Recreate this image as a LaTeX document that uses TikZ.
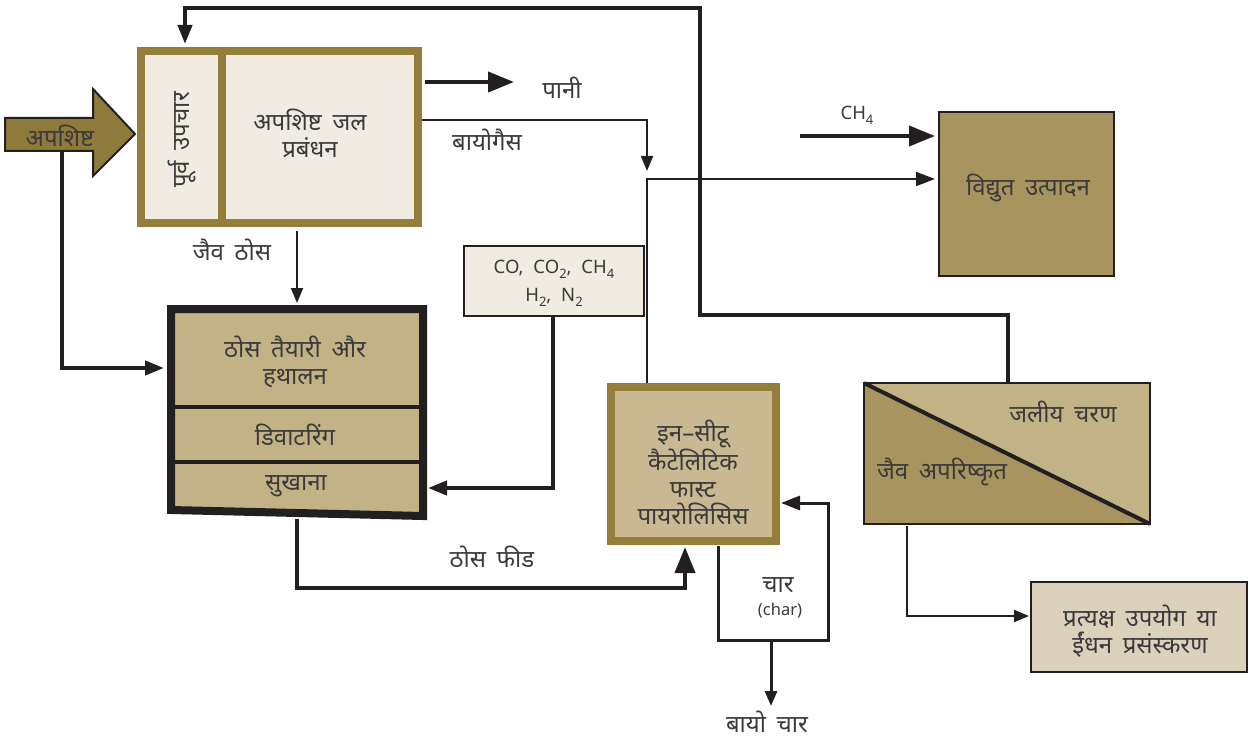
\documentclass[tikz,border=0pt]{standalone}
\usepackage{fontspec}
\setmainfont{Noto Sans}[Script=Devanagari, WordSpace=1.7]
\newfontfamily\latf{Noto Sans}[WordSpace=1.4]
\usetikzlibrary{arrows.meta}
\definecolor{olv}{HTML}{957E3A}
\definecolor{olvfill}{HTML}{8E7A3A}
\definecolor{lightf}{HTML}{F0ECE2}
\definecolor{tanf}{HTML}{C2B286}
\definecolor{darktan}{HTML}{A8945F}
\definecolor{pyrof}{HTML}{C9B891}
\definecolor{prodf}{HTML}{DCD2BC}
\definecolor{dk}{HTML}{231F20}
\definecolor{txt}{HTML}{3A3A3A}
\newcommand{\sbs}[1]{\raisebox{-0.5ex}{\fontsize{13}{13}\selectfont #1}}
\begin{document}
\begin{tikzpicture}[x=1pt,y=-1pt,
  lbl/.style={text=txt, font=\fontsize{24}{27}\selectfont, align=center, inner sep=0pt},
  small/.style={text=txt, font=\latf\fontsize{18.5}{28}\selectfont, align=center, inner sep=0pt},
  bx/.style={draw=dk, line width=2pt, inner sep=0pt},
  olvbox/.style={draw=olv, line width=8pt, inner sep=0pt},
  thinln/.style={draw=dk, line width=2pt},
  midln/.style={draw=dk, line width=3pt},
  thickln/.style={draw=dk, line width=4pt},
  sarr/.style={-{Triangle[length=15pt,width=12pt]}},
  marr/.style={-{Triangle[length=19pt,width=14pt]}},
  barr/.style={-{Triangle[length=26pt,width=20pt]}}
]
\useasboundingbox (0,0) rectangle (1253,741);

% ---------- input arrow ----------
\draw[fill=olvfill, draw=dk, line width=2pt]
  (5,118) -- (93,118) -- (93,89) -- (135,134) -- (93,176) -- (93,151) -- (5,151) -- cycle;
\node[lbl] (waste) at (60,136) {अपशिष्ट};

% ---------- pre-treatment / waste-water box ----------
\node[olvbox, fill=lightf, minimum width=277pt, minimum height=172pt] (pre) at (279.5,137) {};
\draw[olv, line width=8pt] (222,51) -- (222,223);
\node[lbl, rotate=90] (pretxt) at (182,140) {पूर्व उपचार};
\node[lbl] (wwtxt) at (310,133) {अपशिष्ट जल\\प्रबंधन};

% ---------- solids box (slightly trapezoidal) ----------
\draw[dk, line width=8pt, fill=tanf, line join=miter]
  (171,309) -- (423,309) -- (423,516) -- (171,510) -- cycle;
\draw[dk, line width=4pt] (171,407) -- (423,407);
\draw[dk, line width=4pt] (171,462) -- (423,462);
\node[lbl] (prep) at (295,362) {ठोस तैयारी और\\हथालन};
\node[lbl] (dewat) at (295,435) {डिवाटरिंग};
\node[lbl] (dry) at (296,486) {सुखाना};

% ---------- gas box ----------
\node[bx, fill=lightf, minimum width=180pt, minimum height=70pt] (gas) at (554,281) {};
\node[small] (gastxt) at (554,283) {CO,\, CO\sbs{2},\, CH\sbs{4}\\H\sbs{2},\, N\sbs{2}};

% ---------- electricity box ----------
\node[bx, fill=darktan, minimum width=175pt, minimum height=164pt] (elec) at (1026.5,194) {};
\node[lbl] (electxt) at (1028,188) {विद्युत उत्पादन};

% ---------- pyrolysis box ----------
\node[olvbox, fill=pyrof, minimum width=165pt, minimum height=154pt] (pyro) at (693.5,464) {};
\node[lbl] (pyrotxt) at (693,472) {इन–सीटू\\कैटेलिटिक\\फास्ट\\पायरोलिसिस};

% ---------- phase box ----------
\node[bx, minimum width=284pt, minimum height=139pt] (phase) at (1007,453.5) {};
\fill[tanf] (phase.north west) -- (phase.north east) -- (phase.south east) -- cycle;
\fill[darktan] (phase.north west) -- (phase.south west) -- (phase.south east) -- cycle;
\draw[dk, line width=2pt] (phase.north west) rectangle (phase.south east);
\draw[dk, line width=4pt] (phase.north west) -- (phase.south east);
\node[lbl] (aq) at (1063,412) {जलीय चरण};
\node[lbl] (bio) at (942,472) {जैव अपरिष्कृत};

% ---------- product box ----------
\node[bx, fill=prodf, minimum width=216pt, minimum height=90pt] (prod) at (1139,627) {};
\node[lbl] (prodtxt) at (1140,631) {प्रत्यक्ष उपयोग या\\ईंधन प्रसंस्करण};

% ---------- labels ----------
\node[lbl] (pani) at (562,88) {पानी};
\node[lbl] (biogas) at (487,140) {बायोगैस};
\node[lbl] (jaiv) at (232,250) {जैव ठोस};
\node[small] (ch4) at (857,115) {CH\sbs{4}};
\node[lbl] (feed) at (492,557) {ठोस फीड};
\node[lbl] (char) at (778,585) {चार};
\node[text=txt, font=\latf\fontsize{16.5}{18}\selectfont, inner sep=0pt] (charen) at (780,611) {(char)};
\node[lbl] (biochar) at (767,722) {बायो चार};

% ---------- coordinates ----------
\coordinate (inB) at (62,151);
\coordinate (prepIn) at (164,368);
\coordinate (topFB) at (1008,383);
\coordinate (preTop) at (185,44);
\coordinate (paniS) at (425,82);
\coordinate (paniE) at (514,82);
\coordinate (bgS) at (422,120);
\coordinate (bgE) at (647,171);
\coordinate (pyT) at (647,383);
\coordinate (elIn) at (935,179);
\coordinate (ch4S) at (800,136);
\coordinate (ch4E) at (935,136);
\coordinate (gasB) at (553,317);
\coordinate (dryIn) at (428,488);
\coordinate (jtS) at (297,231);
\coordinate (jtE) at (297,303);
\coordinate (feedS) at (297,519);
\coordinate (feedE) at (685,547);
\coordinate (chS) at (718,546);
\coordinate (chC) at (828,640);
\coordinate (chE) at (781,503);
\coordinate (bcS) at (771,640);
\coordinate (bcE) at (771,706);
\coordinate (phB) at (907,526);
\coordinate (prodIn) at (1029,616);

% ---------- connectors ----------
\draw[thickln, marr] (inB) |- (prepIn);
\draw[thickln, marr] (topFB) -- (1008,315) -- (700,315) -- (700,8) -| (preTop);
\draw[thickln, barr] (paniS) -- (paniE);
\draw[thinln, sarr] (bgS) -| (bgE);
\draw[thinln, marr] (pyT) |- (elIn);
\draw[thickln, barr] (ch4S) -- (ch4E);
\draw[thickln, marr] (gasB) |- (dryIn);
\draw[thinln, sarr] (jtS) -- (jtE);
\draw[thickln, barr] (feedS) -- (297,588) -| (feedE);
\draw[midln, marr] (chS) |- (chC) |- (chE);
\draw[midln, sarr] (bcS) -- (bcE);
\draw[thinln, sarr] (phB) |- (prodIn);
\end{tikzpicture}
\end{document}
